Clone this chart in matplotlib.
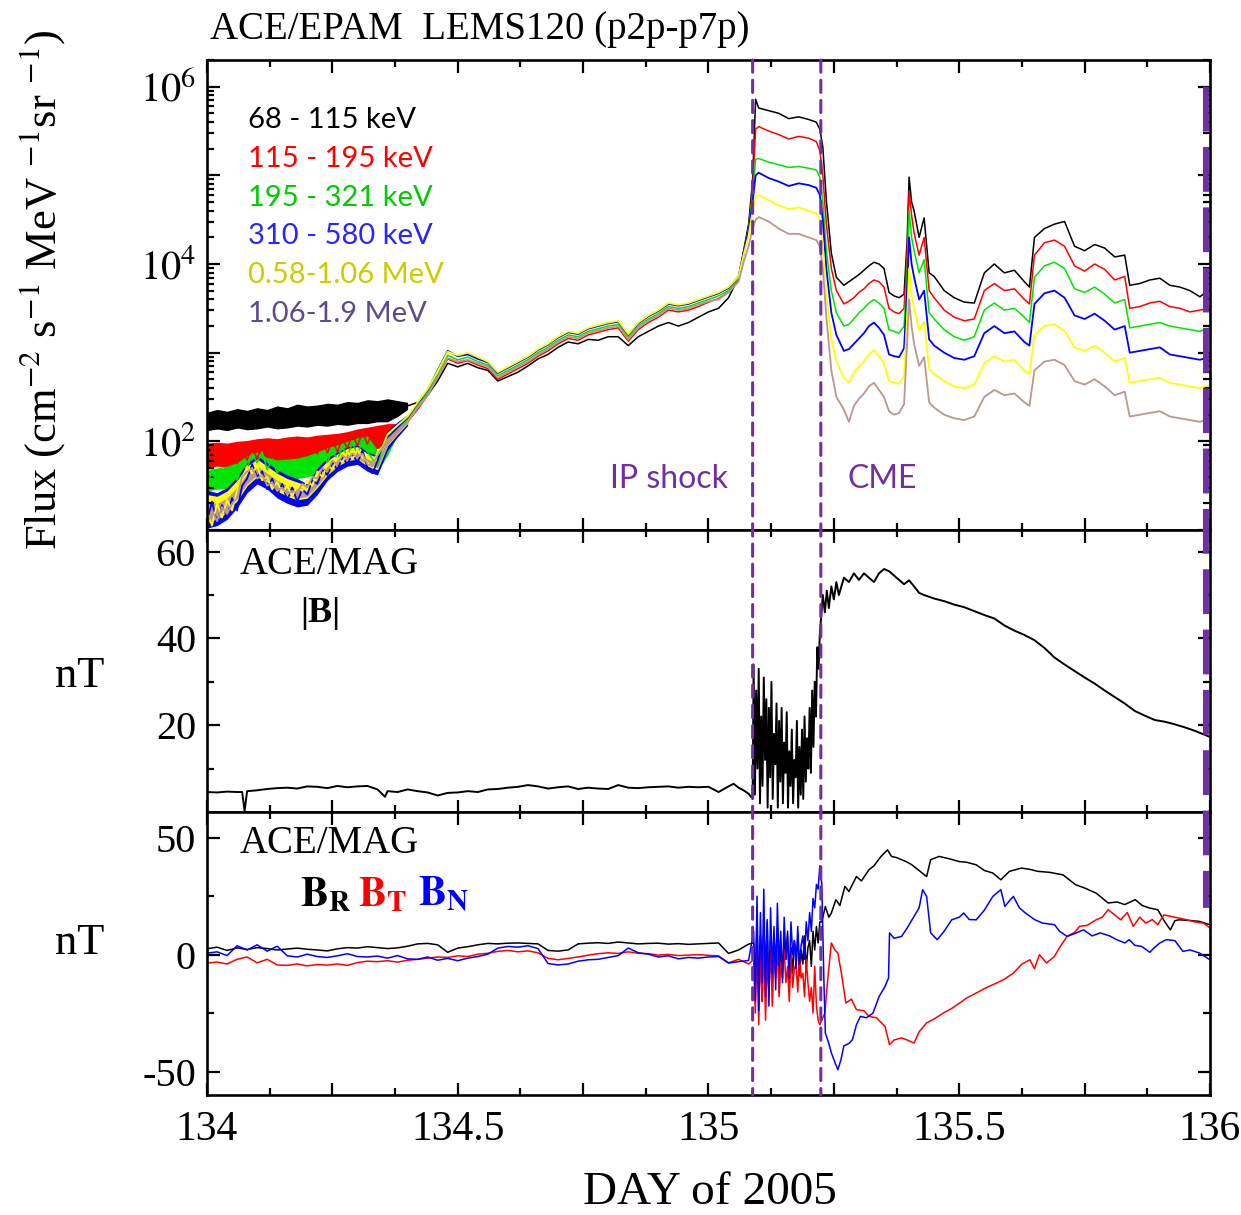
import numpy as np
import matplotlib
matplotlib.use("Agg")
import matplotlib.pyplot as plt
from matplotlib.patches import ConnectionPatch
from matplotlib.ticker import LogLocator, NullFormatter

plt.rcParams['font.family'] = 'Liberation Serif'
plt.rcParams['mathtext.fontset'] = 'stix'
plt.rcParams['axes.unicode_minus'] = False

# ---------------- data ----------------
# EPAM LEMS120 fluxes, stored as log10(flux)
t_flux = np.concatenate([
    np.linspace(134.00, 134.36, 37),
    np.linspace(134.38, 135.04, 34),
    [135.06, 135.07, 135.08, 135.088, 135.094, 135.10, 135.12, 135.14, 135.16,
     135.18, 135.20, 135.215, 135.222, 135.228, 135.235, 135.245, 135.255],
    [135.27, 135.28, 135.29, 135.30, 135.31, 135.32, 135.33, 135.34, 135.35, 135.36,
     135.37, 135.38, 135.39, 135.396, 135.40, 135.405, 135.41, 135.42, 135.43, 135.44,
     135.45, 135.47, 135.49, 135.51, 135.53, 135.55, 135.57, 135.59, 135.61, 135.63,
     135.64, 135.65, 135.67, 135.69, 135.71, 135.73, 135.75, 135.77, 135.79, 135.81,
     135.83, 135.84, 135.86, 135.88, 135.90, 135.92, 135.94, 135.96, 135.98, 136.00],
])

logflux_68_115 = [
    2.16, 2.30, 2.14, 2.28, 2.18, 2.31, 2.15, 2.29, 2.19, 2.33, 2.17, 2.30, 2.20, 2.34, 2.18, 2.31,
    2.21, 2.35, 2.19, 2.33, 2.22, 2.36, 2.20, 2.34, 2.23, 2.37, 2.22, 2.38, 2.25, 2.39, 2.24, 2.40,
    2.26, 2.42, 2.28, 2.44, 2.30,
    2.38, 2.40, 2.44, 2.52, 2.68, 2.88, 2.84, 2.88, 2.83, 2.80, 2.68, 2.73, 2.78, 2.85, 2.93, 2.98,
    3.06, 3.12, 3.10, 3.15, 3.14, 3.18, 3.18, 3.08, 3.18, 3.24, 3.30, 3.34, 3.30, 3.34, 3.40, 3.46,
    3.50, 3.62,
    3.85, 4.15, 4.45, 4.95, 5.86, 5.76, 5.73, 5.70, 5.64, 5.66, 5.63, 5.60, 5.52, 5.32, 4.72, 4.12, 3.85,
    3.76, 3.80, 3.84, 3.88, 3.93, 3.98, 4.02, 4.00, 3.95, 3.68, 3.64, 3.62, 3.66, 4.25, 4.98, 4.70,
    4.60, 4.30, 4.52, 3.90, 3.86, 3.70, 3.62, 3.57, 3.56, 3.90, 4.00, 3.90, 3.93, 3.80, 3.74, 4.30,
    4.40, 4.45, 4.48, 4.20, 4.15, 4.22, 4.18, 4.08, 4.10, 3.76, 3.78, 3.82, 3.84, 3.76, 3.74, 3.70,
    3.63, 3.72,
]
logflux_115_195 = [
    1.76, 1.92, 1.74, 1.90, 1.77, 1.93, 1.75, 1.91, 1.79, 1.95, 1.80, 1.96, 1.82, 1.98, 1.81, 1.97,
    1.83, 1.99, 1.84, 2.00, 1.85, 2.00, 1.86, 2.01, 1.87, 2.02, 1.88, 2.03, 1.92, 2.08, 1.95, 2.10,
    1.97, 2.12, 1.96, 2.14, 2.05,
    2.12, 2.22, 2.36, 2.52, 2.72, 2.93, 2.88, 2.91, 2.86, 2.82, 2.70, 2.76, 2.82, 2.88, 2.96, 3.02,
    3.10, 3.16, 3.14, 3.20, 3.23, 3.26, 3.28, 3.13, 3.26, 3.34, 3.40, 3.48, 3.46, 3.48, 3.52, 3.57,
    3.61, 3.68,
    3.82, 4.10, 4.40, 4.85, 5.52, 5.55, 5.50, 5.46, 5.41, 5.44, 5.42, 5.38, 5.28, 5.00, 4.45, 3.95, 3.70,
    3.55, 3.58, 3.62, 3.68, 3.72, 3.78, 3.82, 3.80, 3.74, 3.50, 3.46, 3.44, 3.50, 4.10, 4.82, 4.55,
    4.35, 4.10, 4.30, 3.70, 3.62, 3.48, 3.40, 3.36, 3.38, 3.70, 3.78, 3.70, 3.72, 3.60, 3.55, 4.10,
    4.24, 4.27, 4.20, 3.98, 3.92, 4.00, 3.94, 3.82, 3.86, 3.50, 3.52, 3.56, 3.58, 3.52, 3.50, 3.46,
    3.48, 3.50,
]
logflux_195_321 = [
    1.50, 1.66, 1.52, 1.68, 1.54, 1.66, 1.56, 1.72, 1.70, 1.86, 1.76, 1.88, 1.68, 1.80, 1.64, 1.78,
    1.66, 1.79, 1.67, 1.80, 1.70, 1.84, 1.74, 1.88, 1.76, 1.90, 1.80, 1.93, 1.84, 1.98, 1.86, 2.00,
    1.88, 1.80, 1.72, 1.92, 2.02,
    2.15, 2.25, 2.40, 2.55, 2.75, 2.97, 2.92, 2.95, 2.90, 2.86, 2.74, 2.80, 2.86, 2.92, 3.00, 3.06,
    3.14, 3.20, 3.18, 3.24, 3.27, 3.30, 3.32, 3.17, 3.30, 3.38, 3.44, 3.52, 3.50, 3.52, 3.56, 3.60,
    3.64, 3.70,
    3.84, 4.12, 4.40, 4.78, 5.18, 5.19, 5.15, 5.12, 5.09, 5.10, 5.08, 5.06, 4.98, 4.70, 4.15, 3.70, 3.45,
    3.30, 3.32, 3.38, 3.45, 3.50, 3.56, 3.60, 3.56, 3.50, 3.26, 3.24, 3.22, 3.30, 3.90, 4.60, 4.30,
    4.15, 3.90, 4.05, 3.45, 3.38, 3.26, 3.18, 3.14, 3.18, 3.48, 3.56, 3.48, 3.50, 3.40, 3.34, 3.85,
    3.98, 4.02, 3.95, 3.72, 3.68, 3.74, 3.66, 3.56, 3.60, 3.28, 3.30, 3.32, 3.34, 3.30, 3.28, 3.26,
    3.24, 3.28,
]
logflux_310_580 = [
    1.10, 1.32, 1.08, 1.28, 1.14, 1.36, 1.22, 1.50, 1.58, 1.74, 1.60, 1.66, 1.46, 1.58, 1.40, 1.52,
    1.34, 1.48, 1.32, 1.46, 1.40, 1.56, 1.52, 1.68, 1.62, 1.76, 1.68, 1.82, 1.74, 1.86, 1.76, 1.90,
    1.70, 1.64, 1.78, 1.96, 2.04,
    2.16, 2.27, 2.43, 2.58, 2.80, 3.02, 2.96, 2.98, 2.93, 2.89, 2.77, 2.83, 2.89, 2.95, 3.03, 3.09,
    3.17, 3.23, 3.21, 3.27, 3.30, 3.33, 3.35, 3.20, 3.33, 3.41, 3.47, 3.55, 3.53, 3.55, 3.59, 3.63,
    3.67, 3.73,
    3.86, 4.12, 4.38, 4.70, 5.00, 5.03, 4.97, 4.93, 4.88, 4.91, 4.89, 4.86, 4.78, 4.50, 3.95, 3.45, 3.20,
    3.02, 3.04, 3.10, 3.16, 3.22, 3.30, 3.34, 3.28, 3.20, 2.98, 2.96, 2.95, 3.05, 3.70, 4.30, 4.00,
    3.85, 3.60, 3.70, 3.15, 3.08, 3.00, 2.94, 2.92, 2.96, 3.22, 3.30, 3.22, 3.24, 3.12, 3.08, 3.55,
    3.67, 3.70, 3.62, 3.42, 3.38, 3.44, 3.36, 3.26, 3.30, 3.00, 3.02, 3.04, 3.06, 2.98, 2.96, 2.94,
    2.92, 2.95,
]
logflux_580_1060 = [
    1.20, 1.05, 1.30, 1.14, 1.34, 1.22, 1.44, 1.56, 1.72, 1.64, 1.72, 1.56, 1.60, 1.46, 1.54, 1.42,
    1.50, 1.38, 1.50, 1.44, 1.56, 1.50, 1.66, 1.60, 1.74, 1.68, 1.82, 1.76, 1.88, 1.80, 1.90, 1.82,
    1.76, 1.70, 1.88, 1.94, 2.08,
    2.18, 2.28, 2.44, 2.59, 2.79, 3.01, 2.97, 3.00, 2.95, 2.90, 2.78, 2.84, 2.90, 2.96, 3.04, 3.10,
    3.18, 3.24, 3.22, 3.28, 3.31, 3.34, 3.36, 3.21, 3.34, 3.42, 3.48, 3.56, 3.54, 3.56, 3.60, 3.64,
    3.68, 3.74,
    3.86, 4.10, 4.32, 4.60, 4.76, 4.78, 4.72, 4.66, 4.62, 4.64, 4.60, 4.57, 4.50, 4.20, 3.65, 3.15, 2.90,
    2.72, 2.66, 2.78, 2.84, 2.90, 2.98, 3.03, 2.96, 2.88, 2.68, 2.66, 2.65, 2.74, 3.40, 3.95, 3.65,
    3.50, 3.25, 3.35, 2.82, 2.76, 2.68, 2.62, 2.60, 2.64, 2.88, 2.96, 2.90, 2.92, 2.80, 2.76, 3.20,
    3.30, 3.32, 3.25, 3.06, 3.02, 3.08, 3.00, 2.90, 2.94, 2.66, 2.68, 2.70, 2.72, 2.66, 2.64, 2.62,
    2.60, 2.64,
]
logflux_1060_1900 = [
    1.04, 1.22, 1.10, 1.26, 1.18, 1.30, 1.36, 1.60, 1.66, 1.70, 1.58, 1.62, 1.50, 1.54, 1.44, 1.48,
    1.40, 1.44, 1.42, 1.52, 1.48, 1.60, 1.58, 1.70, 1.66, 1.78, 1.74, 1.84, 1.80, 1.86, 1.82, 1.86,
    1.74, 1.72, 1.84, 1.92, 2.02,
    2.12, 2.22, 2.38, 2.52, 2.72, 2.94, 2.90, 2.92, 2.88, 2.84, 2.72, 2.78, 2.84, 2.90, 2.98, 3.04,
    3.12, 3.18, 3.16, 3.22, 3.25, 3.28, 3.30, 3.15, 3.28, 3.36, 3.42, 3.50, 3.48, 3.50, 3.54, 3.58,
    3.60, 3.68,
    3.80, 4.02, 4.20, 4.40, 4.50, 4.53, 4.48, 4.40, 4.34, 4.34, 4.30, 4.27, 4.20, 3.95, 3.40, 2.80, 2.50,
    2.36, 2.22, 2.40, 2.48, 2.54, 2.62, 2.66, 2.58, 2.50, 2.34, 2.30, 2.32, 2.42, 3.10, 3.60, 3.30,
    3.10, 2.85, 2.95, 2.44, 2.38, 2.30, 2.26, 2.24, 2.28, 2.50, 2.58, 2.52, 2.54, 2.44, 2.40, 2.80,
    2.90, 2.92, 2.86, 2.68, 2.64, 2.70, 2.62, 2.52, 2.56, 2.28, 2.30, 2.32, 2.34, 2.28, 2.26, 2.24,
    2.22, 2.26,
]

# spread of the noisy early interval, one band per channel
# (log10 lower / upper edge of each band)
t_band = np.linspace(134.00, 134.40, 21)
band_lo = [
    [2.12, 2.14, 2.12, 2.15, 2.13, 2.14, 2.16, 2.14, 2.15, 2.17, 2.16, 2.18, 2.17, 2.19, 2.18, 2.20,
     2.20, 2.22, 2.22, 2.28, 2.36],
    [1.70, 1.72, 1.71, 1.73, 1.72, 1.74, 1.75, 1.74, 1.76, 1.77, 1.76, 1.78, 1.79, 1.80, 1.82, 1.86,
     1.90, 1.92, 1.95, 2.05, 2.18],
    [1.44, 1.46, 1.47, 1.50, 1.55, 1.62, 1.58, 1.56, 1.57, 1.58, 1.60, 1.63, 1.68, 1.72, 1.75, 1.80,
     1.82, 1.66, 1.84, 2.08, 2.20],
    [1.02, 1.05, 1.12, 1.25, 1.42, 1.52, 1.46, 1.36, 1.30, 1.26, 1.28, 1.40, 1.56, 1.66, 1.72, 1.74,
     1.66, 1.62, 1.90, 2.05, 2.18],
    [1.10, 1.12, 1.20, 1.33, 1.50, 1.60, 1.54, 1.44, 1.38, 1.34, 1.36, 1.48, 1.62, 1.72, 1.78, 1.80,
     1.72, 1.68, 1.95, 2.08, 2.20],
    [1.08, 1.14, 1.22, 1.36, 1.52, 1.62, 1.56, 1.46, 1.40, 1.36, 1.38, 1.50, 1.64, 1.73, 1.79, 1.81,
     1.74, 1.70, 1.96, 2.09, 2.21],
]
band_hi = [
    [2.33, 2.36, 2.34, 2.37, 2.35, 2.38, 2.36, 2.40, 2.38, 2.42, 2.40, 2.41, 2.43, 2.42, 2.45, 2.44,
     2.47, 2.46, 2.48, 2.46, 2.44],
    [1.98, 1.99, 1.98, 2.00, 2.01, 2.03, 2.04, 2.03, 2.05, 2.06, 2.05, 2.07, 2.08, 2.09, 2.11, 2.14,
     2.16, 2.18, 2.20, 2.20, 2.26],
    [1.68, 1.70, 1.72, 1.76, 1.84, 1.88, 1.82, 1.79, 1.80, 1.81, 1.84, 1.88, 1.93, 1.96, 2.00, 2.04,
     2.06, 1.90, 2.06, 2.22, 2.30],
    [1.45, 1.42, 1.48, 1.60, 1.76, 1.84, 1.76, 1.68, 1.62, 1.58, 1.52, 1.70, 1.82, 1.88, 1.94, 1.96,
     1.88, 1.84, 2.12, 2.22, 2.30],
    [1.40, 1.38, 1.44, 1.56, 1.72, 1.80, 1.72, 1.64, 1.58, 1.54, 1.50, 1.66, 1.78, 1.86, 1.92, 1.94,
     1.86, 1.82, 2.10, 2.20, 2.28],
    [1.32, 1.30, 1.36, 1.48, 1.64, 1.72, 1.64, 1.56, 1.50, 1.46, 1.44, 1.58, 1.72, 1.80, 1.86, 1.88,
     1.80, 1.76, 2.04, 2.16, 2.26],
]

channel_labels = ['68 - 115 keV', '115 - 195 keV', '195 - 321 keV', '310 - 580 keV',
                  '0.58-1.06 MeV', '1.06-1.9 MeV']

# ACE/MAG |B| (nT)
t_b_quiet = [134.00, 134.02, 134.04, 134.06, 134.07, 134.075, 134.08, 134.10, 134.12, 134.14,
             134.16, 134.18, 134.20, 134.22, 134.24, 134.26, 134.28, 134.30, 134.32, 134.34,
             134.355, 134.36, 134.38, 134.40, 134.42, 134.44, 134.46, 134.48, 134.50, 134.52,
             134.54, 134.56, 134.58, 134.60, 134.62, 134.64, 134.66, 134.68, 134.70, 134.72,
             134.74, 134.76, 134.78, 134.80, 134.82, 134.84, 134.86, 134.88, 134.90, 134.92,
             134.94, 134.96, 134.98, 135.00, 135.02, 135.04, 135.05, 135.06, 135.07, 135.08, 135.088]
b_quiet = [4.6, 4.5, 4.7, 4.6, 4.6, 0.3, 4.8, 5.0, 5.3, 5.5, 5.6, 5.4, 5.9, 5.8, 5.5, 6.0, 5.7, 5.9,
           6.0, 5.2, 3.5, 4.8, 4.6, 5.2, 4.8, 4.5, 3.8, 4.4, 4.5, 4.8, 4.6, 5.2, 5.3, 5.6, 5.8, 6.2,
           5.9, 5.4, 5.7, 5.9, 5.3, 5.6, 5.4, 5.3, 6.2, 5.6, 5.5, 5.7, 5.8, 5.9, 5.6, 5.8, 5.7, 5.8,
           4.6, 5.9, 6.5, 5.6, 5.0, 4.2, 3.0]
b_sheath = [34, 4, 28, 10, 33, 2, 22, 6, 31, 12, 26, 1, 24, 8, 30, 3, 18, 11, 25, 1,
            21, 7, 24, 2, 16, 9, 23, 1, 14, 6, 19, 2, 12, 8, 21, 1, 15, 4, 19, 3,
            22, 7, 17, 10, 24, 9, 28, 15, 30, 22, 38, 33, 41]
t_b_cme = [135.224, 135.228, 135.232, 135.236, 135.24, 135.245, 135.25, 135.255, 135.26, 135.27,
           135.28, 135.29, 135.30, 135.31, 135.32, 135.33, 135.34, 135.35, 135.36, 135.37,
           135.38, 135.39, 135.40, 135.41, 135.42, 135.43, 135.45, 135.47, 135.49, 135.51,
           135.53, 135.55, 135.57, 135.59, 135.61, 135.63, 135.65, 135.67, 135.69, 135.71,
           135.73, 135.75, 135.77, 135.79, 135.81, 135.83, 135.85, 135.87, 135.89, 135.91,
           135.93, 135.95, 135.97, 136.00]
b_cme = [44, 50, 46, 51, 47, 52, 49, 53, 50, 54, 53, 55, 53.5, 55, 54, 53, 55, 56, 55.5, 54.5,
         53.5, 52.5, 53.4, 52, 50.5, 50, 49.2, 48.6, 47.8, 47.2, 46.3, 45.4, 44.6, 43, 41.8, 40.8,
         39.6, 37.8, 35.6, 34, 32.5, 31, 29.6, 28, 26.5, 25, 23.3, 22.2, 21.2, 20.8, 20.2, 19.5,
         18.7, 17.3]

# ACE/MAG RTN components (nT)
t_rtn_quiet = np.linspace(134.00, 135.08, 55)
br_quiet = [2.5, 3.2, 1.8, 2.9, 2.2, 3.0, 2.6, 2.0, 2.4, 2.8, 2.3, 2.0, 1.6, 2.5, 3.0, 2.8, 3.4, 3.0,
            2.6, 2.9, 3.6, 4.6, 4.8, 4.2, 1.0, 2.8, 3.4, 4.2, 4.8, 4.6, 4.9, 5.0, 4.8, 4.6, 1.8, 1.5,
            2.0, 4.6, 4.9, 5.1, 4.8, 5.4, 5.0, 4.6, 4.8, 4.9, 4.5, 4.7, 4.4, 4.6, 4.8, 5.0, 0.5, 2.0, 4.5]
bt_quiet = [-3.6, -3.2, -4.0, -2.0, -1.0, -3.5, -2.0, -4.4, -4.6, -4.0, -4.8, -4.2, -4.5, -4.0, -4.6,
            -3.4, -2.8, -3.0, -2.6, -3.2, -2.4, -2.0, -1.5, -1.0, -1.2, -0.5, -0.8, 0.2, 0.6, 1.4,
            1.8, 1.2, 1.6, 0.8, -1.6, -2.2, -1.6, -1.0, -0.2, 0.4, 0.8, 0.5, 1.2, 0.6, 0.4, -0.2,
            0.1, -0.4, -0.2, 0.0, -0.3, -0.5, -3.5, -2.0, -4.0]
bn_quiet = [0.6, 1.2, -0.4, 3.8, 2.0, 4.2, 1.5, 3.6, -0.5, -1.0, 0.2, -0.8, -1.2, -0.5, 0.4, -0.8,
            -1.0, -0.6, -1.5, -0.4, -1.8, -2.0, -1.0, -2.4, -1.6, -2.6, -1.5, -0.8, 0.2, 2.8, 3.5,
            3.2, 3.8, 2.6, -3.8, -4.4, -4.0, -2.8, -2.2, -2.0, -1.2, -0.4, 2.8, 0.8, 0.2, -1.0, -0.5,
            -1.8, -1.2, -1.5, -1.0, -0.8, -3.6, -3.0, -2.5]
br_sheath = [5, -8, 12, -15, 8, -20, 10, -5, 14, -18, 6, -12, 9, -3, 11, -16, 4, -10, 7, -2,
             10, -14, 3, -8, 6, 0, 5, -9, 2, -4, 8, -6, 3, 6, -5, 10, 2, 12, 5, 14]
bt_sheath = [-2, -25, 4, -30, 2, -20, 8, -28, -4, -15, 6, -22, 0, -10, 5, -18, -3, -6, 2, -12,
             -5, -20, 1, -14, -6, -4, -16, 0, -10, -8, -18, -2, -12, -20, -14, -25, -5, -22, -28, -30]
bn_sheath = [10, -20, 25, -24, 18, -12, 28, -18, 15, -22, 20, -8, 12, -15, 22, -5, 10, -12, 16, -2,
             8, -10, 14, 0, 6, -6, 12, -4, 4, 8, -2, 14, 6, 18, 10, 24, 20, 30, 28, 38]
t_br_cme = [135.226, 135.233, 135.24, 135.245, 135.254, 135.262, 135.272, 135.28, 135.295, 135.305,
            135.32, 135.33, 135.344, 135.357, 135.365, 135.375, 135.394, 135.405, 135.418, 135.435,
            135.443, 135.46, 135.48, 135.50, 135.515, 135.534, 135.55, 135.567, 135.583, 135.60,
            135.624, 135.64, 135.657, 135.68, 135.707, 135.732, 135.75, 135.773, 135.797, 135.815,
            135.83, 135.851, 135.865, 135.88, 135.896, 135.91, 135.921, 135.93, 135.938, 135.96,
            135.979, 136.0]
br_cme = [14, 20.6, 16, 17.8, 23.5, 21, 29.2, 27, 33.4, 31.5, 36.3, 38, 42, 44.8, 42, 41.5, 39.8,
          38.5, 36.3, 33.4, 40.6, 42, 41, 39.8, 39.5, 38.4, 36, 34.9, 32, 35.6, 37, 36.5, 35.6,
          35.2, 34.1, 29.9, 28.5, 26.3, 22.1, 22.5, 21.4, 23.5, 21, 19.9, 19.2, 14, 10.6, 14.5,
          14.9, 14.6, 14.2, 12.8]
t_bt_cme = [135.226, 135.232, 135.238, 135.245, 135.252, 135.258, 135.265, 135.274, 135.285, 135.295,
            135.31, 135.32, 135.335, 135.352, 135.361, 135.37, 135.385, 135.395, 135.41, 135.42,
            135.435, 135.45, 135.468, 135.485, 135.501, 135.515, 135.534, 135.555, 135.575, 135.59,
            135.608, 135.625, 135.641, 135.65, 135.66, 135.674, 135.69, 135.70, 135.715, 135.73,
            135.74, 135.755, 135.773, 135.785, 135.797, 135.81, 135.822, 135.835, 135.847, 135.86,
            135.872, 135.885, 135.896, 135.908, 135.921, 135.94, 135.954, 135.97, 135.987, 136.0]
bt_cme = [-28, -25, -10, 5, 2, 0.7, -7.9, -20.7, -19, -23.5, -24, -26.4, -27, -30.7, -38.5, -36.5,
          -35.6, -36.4, -37.8, -33, -29.2, -27.5, -25, -23, -20.7, -18.5, -16.4, -14, -12.1, -10.5,
          -7.9, -4, -2.2, -6, 0, -3.6, -0.7, 3, 7.8, 9.5, 12.1, 12.5, 14.9, 16, 19.2, 17, 14.9, 18,
          12.1, 16, 13.5, 15, 12.8, 17, 16.4, 15.5, 14.9, 14, 13.5, 11.4]
t_bn_cme = [135.226, 135.230, 135.233, 135.24, 135.245, 135.252, 135.258, 135.264, 135.27, 135.28,
            135.287, 135.295, 135.303, 135.315, 135.328, 135.34, 135.352, 135.359, 135.361, 135.37,
            135.385, 135.395, 135.41, 135.42, 135.427, 135.435, 135.443, 135.456, 135.47, 135.485,
            135.50, 135.509, 135.52, 135.534, 135.55, 135.567, 135.583, 135.591, 135.60, 135.608,
            135.62, 135.632, 135.65, 135.666, 135.69, 135.70, 135.715, 135.73, 135.748, 135.765,
            135.781, 135.80, 135.814, 135.83, 135.839, 135.85, 135.864, 135.88, 135.888, 135.90,
            135.913, 135.93, 135.946, 135.96, 135.979, 136.0]
bn_cme = [30, -10, -33.5, -38, -42, -46, -49.2, -45, -39, -38, -36.4, -30, -26.4, -27, -25, -18,
          -13.6, -10, 9.3, 7, 7.8, 11, 16.4, 20, 27.8, 24.9, 9.3, 6.4, 10, 14.9, 16, 17.8, 15, 14.9,
          19, 24.9, 27.8, 20.6, 23, 24.9, 20, 17.8, 15, 13.5, 12.8, 10, 7.8, 9, 10.6, 8, 9.3, 8, 6.4,
          5, 6.4, 4, 3.5, 1, 2.8, 5, 6.4, 6, 1.4, 2, 0.7, -2.2]

shock_day = 135.088
cme_day = 135.224
end_day = 135.992

# ---------------- figure ----------------
fig = plt.figure(figsize=(12.41, 12.15), dpi=100)
ax1 = fig.add_axes([0.1668, 0.5638, 0.8082, 0.3868])
ax2 = fig.add_axes([0.1668, 0.3317, 0.8082, 0.2321])
ax3 = fig.add_axes([0.1668, 0.0988, 0.8082, 0.2329])

purple = '#7030A0'
line_cols = ['black', '#FF0000', '#00E400', '#0000FF', '#FFFF00', '#BC9690']
text_cols = ['black', '#FF0000', '#00CC00', '#2626FF', '#CCCC00', '#5F4B8B']

# panel 1: fluxes
all_flux = [logflux_68_115, logflux_115_195, logflux_195_321, logflux_310_580,
            logflux_580_1060, logflux_1060_1900]
for i, c in enumerate(line_cols):
    ax1.fill_between(t_band, 10 ** np.asarray(band_lo[i]), 10 ** np.asarray(band_hi[i]),
                     color=c, lw=0)
for i, (vals, c) in enumerate(zip(all_flux, line_cols)):
    ax1.plot(t_flux, 10 ** np.asarray(vals), color=c, lw=1.3 if i >= 3 else 1.1)
ax1.set_yscale('log')
ax1.set_ylim(10, 2e6)
ax1.set_yticks([1e1, 1e2, 1e3, 1e4, 1e5, 1e6])
ax1.set_yticklabels(['', r'$10^2$', '', r'$10^4$', '', r'$10^6$'])
ax1.yaxis.set_minor_locator(LogLocator(base=10, subs=np.arange(2, 10), numticks=30))
ax1.yaxis.set_minor_formatter(NullFormatter())

for i, (lab, c) in enumerate(zip(channel_labels, text_cols)):
    ax1.text(0.041, 0.855 - i * 0.0825, lab, transform=ax1.transAxes, color=c,
             fontfamily='Lato', fontsize=21, va='baseline', ha='left')
ax1.text(0.402, 0.09, 'IP shock', transform=ax1.transAxes, color=purple,
         fontfamily='Lato', fontsize=23, va='baseline')
ax1.text(0.639, 0.09, 'CME', transform=ax1.transAxes, color=purple,
         fontfamily='Lato', fontsize=23, va='baseline')

# panel 2: |B|
t_b_sheath = np.linspace(135.09, 135.222, len(b_sheath))
ax2.plot(np.concatenate([t_b_quiet, t_b_sheath, t_b_cme]),
         np.concatenate([b_quiet, b_sheath, b_cme]), color='black', lw=1.4)
ax2.set_ylim(0, 65)
ax2.set_yticks([20, 40, 60])
ax2.set_yticks([10, 30, 50], minor=True)
ax2.text(0.033, 0.845, 'ACE/MAG', transform=ax2.transAxes, fontsize=28, va='baseline')
ax2.text(0.093, 0.675, '|B|', transform=ax2.transAxes, fontsize=26, fontweight='bold',
         va='baseline')

# panel 3: RTN components
t_rtn_sheath = np.linspace(135.09, 135.222, len(br_sheath))
ax3.plot(np.concatenate([t_rtn_quiet, t_rtn_sheath, t_br_cme]),
         np.concatenate([br_quiet, br_sheath, br_cme]), color='black', lw=1.1)
ax3.plot(np.concatenate([t_rtn_quiet, t_rtn_sheath, t_bt_cme]),
         np.concatenate([bt_quiet, bt_sheath, bt_cme]), color='#FF0000', lw=1.1)
ax3.plot(np.concatenate([t_rtn_quiet, t_rtn_sheath, t_bn_cme]),
         np.concatenate([bn_quiet, bn_sheath, bn_cme]), color='#0000FF', lw=1.1)
ax3.set_ylim(-60, 61)
ax3.set_yticks([-50, 0, 50])
ax3.set_yticks([-25, 25], minor=True)
ax3.text(0.033, 0.855, 'ACE/MAG', transform=ax3.transAxes, fontsize=28, va='baseline')
for x0, lab, c in [(0.093, r'$\mathbf{B}_\mathbf{R}$', 'black'),
                   (0.151, r'$\mathbf{B}_\mathbf{T}$', '#FF0000'),
                   (0.210, r'$\mathbf{B}_\mathbf{N}$', '#0000FF')]:
    ax3.text(x0, 0.668, lab, transform=ax3.transAxes, fontsize=30, color=c, va='baseline')

# common axis styling
major_days = [134, 134.25, 134.5, 134.75, 135, 135.25, 135.5, 135.75, 136]
minor_days = [134.125, 134.375, 134.625, 134.875, 135.125, 135.375, 135.625, 135.875]
day_labels = ['134', '', '134.5', '', '135', '', '135.5', '', '136']
for ax in (ax1, ax2, ax3):
    ax.set_xlim(134, 136)
    ax.set_xticks(major_days)
    ax.set_xticks(minor_days, minor=True)
    ax.tick_params(which='both', direction='in', top=True, right=True, width=1.6,
                   labelsize=29, pad=8)
    ax.tick_params(which='major', length=9)
    ax.tick_params(which='minor', length=5)
    for s in ax.spines.values():
        s.set_linewidth(1.9)
    if ax is not ax3:
        ax.tick_params(labelbottom=False)
ax3.set_xticklabels(day_labels)
ax3.tick_params(axis='x', labelsize=30, pad=11)

# event markers spanning the panels
for d in (shock_day, cme_day):
    con = ConnectionPatch(xyA=(d, 2e6), coordsA=ax1.transData, xyB=(d, -60),
                          coordsB=ax3.transData, color=purple, lw=2.2,
                          linestyle=(0, (4, 2.6)), zorder=5)
    fig.add_artist(con)
con = ConnectionPatch(xyA=(end_day, 1e6), coordsA=ax1.transData, xyB=(end_day, 20),
                      coordsB=ax3.transData, color=purple, lw=4.3,
                      linestyle=(0, (7.5, 2.6)), capstyle='butt', zorder=5)
fig.add_artist(con)

# labels
fig.text(210 / 1241, 1 - 39 / 1215, 'ACE/EPAM  LEMS120 (p2p-p7p)', fontsize=28, va='baseline')
fig.text(42 / 1241, 1 - 290 / 1215,
         'Flux (cm$^{-2}$ s$^{-1}$ MeV $^{-1}$sr $^{-1}$)',
         rotation=90, ha='center', va='center', fontsize=32)
fig.text(80 / 1241, 1 - 676 / 1215, 'nT', ha='center', va='center', fontsize=32)
fig.text(80 / 1241, 1 - 943 / 1215, 'nT', ha='center', va='center', fontsize=32)
fig.text(710 / 1241, 1 - 1193 / 1215, 'DAY of 2005', ha='center', va='center', fontsize=34)

fig.savefig('out.png', dpi=100)
